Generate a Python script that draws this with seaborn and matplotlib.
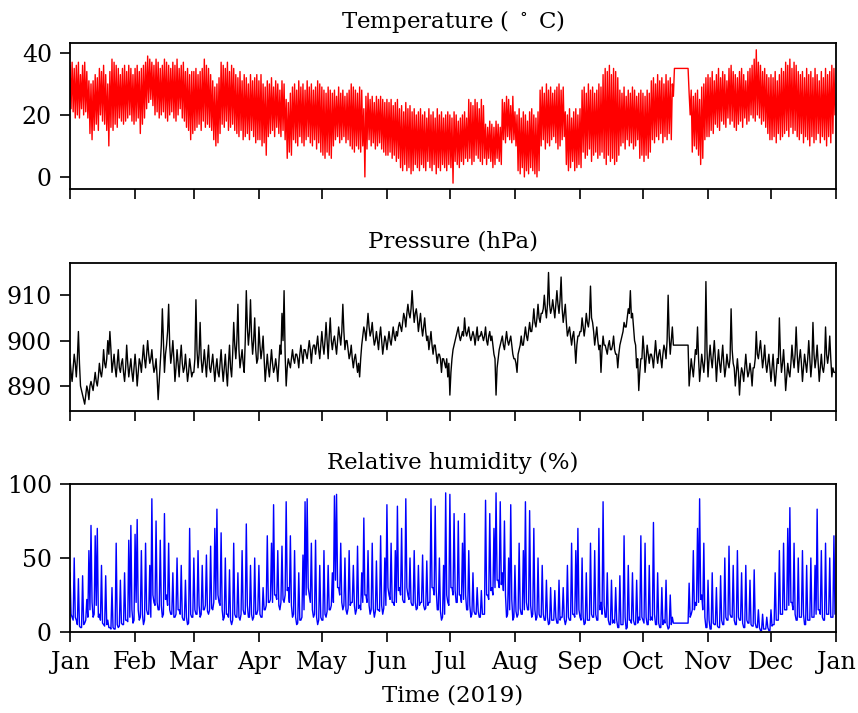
import numpy as np
import pandas as pd
import matplotlib
matplotlib.use("Agg")
import matplotlib.pyplot as plt
import matplotlib.dates as mdates
import seaborn as sns

# ---- Data: two readings per day (daily high / low), month by month ----
temp_hi_jan = [36, 37, 35, 36, 37, 33, 36, 37, 34, 31, 30, 31, 33, 32, 35, 34, 36, 33, 30, 34, 38, 37, 36, 35, 33, 35, 36, 34, 36, 35, 33]
temp_lo_jan = [22, 21, 19, 20, 19, 22, 20, 21, 19, 14, 12, 15, 17, 15, 20, 18, 17, 15, 10, 16, 15, 17, 16, 19, 18, 17, 18, 19, 20, 18, 17]
temp_hi_feb = [35, 36, 34, 35, 36, 37, 39, 38, 37, 36, 38, 37, 35, 36, 38, 37, 36, 35, 37, 36, 38, 35, 36, 37, 34, 35, 33, 34]
temp_lo_feb = [18, 19, 14, 17, 19, 22, 24, 25, 23, 20, 21, 19, 20, 21, 19, 18, 20, 21, 19, 18, 20, 22, 19, 18, 16, 15, 12, 14]
temp_hi_mar = [34, 35, 33, 34, 35, 38, 36, 35, 33, 31, 29, 30, 32, 37, 36, 35, 37, 34, 36, 35, 33, 32, 34, 31, 33, 32, 30, 33, 31, 32, 33]
temp_lo_mar = [15, 16, 17, 15, 18, 16, 17, 16, 15, 12, 10, 11, 14, 17, 16, 18, 15, 16, 17, 15, 14, 13, 15, 12, 13, 14, 12, 15, 13, 11, 12]
temp_hi_apr = [31, 33, 30, 29, 31, 30, 32, 29, 31, 30, 28, 31, 30, 25, 24, 27, 29, 30, 28, 31, 29, 30, 28, 31, 29, 30, 28, 29, 31, 30]
temp_lo_apr = [12, 10, 11, 7, 13, 14, 15, 13, 16, 14, 13, 15, 12, 6, 8, 7, 12, 11, 10, 13, 11, 10, 12, 13, 11, 10, 12, 9, 11, 8]
temp_hi_may = [29, 28, 27, 29, 28, 27, 28, 26, 29, 27, 28, 26, 27, 28, 30, 29, 28, 27, 29, 28, 22, 26, 27, 25, 26, 24, 26, 25, 26, 25, 24]
temp_lo_may = [7, 6, 8, 7, 6, 10, 12, 13, 11, 12, 13, 11, 12, 10, 9, 8, 10, 9, 8, 10, 0, 9, 12, 10, 11, 9, 10, 11, 9, 8, 7]
temp_hi_jun = [25, 24, 25, 23, 24, 25, 22, 23, 21, 24, 22, 23, 21, 22, 20, 21, 22, 20, 21, 19, 22, 20, 21, 19, 22, 20, 21, 19, 20, 21]
temp_lo_jun = [7, 8, 6, 7, 5, 6, 3, 2, 4, 2, 3, 1, 2, 4, 3, 2, 4, 3, 2, 5, 3, 2, 4, 1, 3, 2, 4, 3, 2, 4]
temp_hi_jul = [20, 19, 21, 20, 18, 19, 20, 21, 19, 25, 24, 23, 25, 24, 22, 25, 23, 17, 16, 18, 17, 16, 18, 17, 16, 25, 24, 26, 25, 23, 26]
temp_lo_jul = [3, -2, 5, 4, 3, 5, 4, 6, 5, 6, 4, 5, 7, 6, 5, 4, 6, 4, 6, 5, 3, 4, 6, 5, 4, 12, 11, 13, 12, 11, 12]
temp_hi_aug = [21, 20, 22, 19, 21, 20, 18, 21, 22, 20, 19, 21, 28, 29, 27, 30, 28, 29, 27, 28, 29, 30, 28, 29, 21, 20, 22, 19, 21, 22, 20]
temp_lo_aug = [10, 2, 1, 3, 0, 2, 1, 3, 2, 1, 0, 2, 10, 12, 9, 11, 10, 12, 13, 11, 9, 10, 12, 13, 4, 2, 3, 5, 2, 3, 4]
temp_hi_sep = [22, 28, 29, 27, 30, 28, 29, 27, 28, 30, 29, 33, 35, 34, 36, 33, 35, 34, 32, 28, 27, 29, 26, 28, 27, 29, 28, 26, 27, 28]
temp_lo_sep = [3, 8, 6, 7, 9, 5, 7, 8, 6, 7, 8, 6, 4, 7, 5, 6, 4, 5, 7, 10, 11, 9, 12, 10, 11, 9, 10, 12, 6, 7]
temp_hi_oct = [27, 26, 28, 27, 31, 32, 30, 33, 31, 32, 30, 33, 31, 32, 30, 35, 35, 35, 35, 35, 35, 35, 27, 28, 26, 27, 28, 25, 29, 30, 32]
temp_lo_oct = [5, 7, 6, 8, 12, 11, 13, 12, 14, 11, 13, 12, 14, 12, 26, 35, 35, 35, 35, 35, 35, 35, 20, 8, 10, 9, 7, 4, 6, 12, 13]
temp_hi_nov = [33, 32, 34, 31, 33, 35, 32, 34, 33, 31, 35, 36, 34, 33, 32, 34, 35, 33, 31, 34, 35, 36, 38, 41, 37, 36, 34, 35, 33, 32]
temp_lo_nov = [13, 15, 14, 17, 16, 15, 18, 17, 16, 19, 17, 18, 16, 15, 17, 18, 16, 19, 17, 18, 20, 19, 18, 20, 19, 17, 18, 16, 14, 12]
temp_hi_dec = [33, 32, 34, 31, 33, 35, 34, 37, 36, 38, 35, 37, 36, 34, 33, 34, 32, 35, 33, 34, 32, 35, 33, 31, 34, 32, 35, 33, 34, 36, 35]
temp_lo_dec = [12, 13, 11, 14, 12, 13, 14, 15, 13, 16, 14, 15, 13, 12, 14, 11, 13, 12, 10, 13, 11, 12, 14, 11, 13, 12, 10, 13, 11, 14, 20]

pres_a_jan = [896, 891, 897, 892, 902, 890, 888, 886, 890, 887, 891, 889, 893, 890, 895, 892, 898, 894, 900, 902, 893, 897, 892, 898, 893, 896, 891, 899, 892, 896, 891]
pres_b_jan = [893, 894, 895, 896, 895, 889, 887, 888, 889, 890, 890, 891, 891, 892, 893, 894, 895, 896, 897, 898, 895, 894, 895, 894, 895, 893, 894, 895, 894, 893, 894]
pres_a_feb = [897, 890, 896, 893, 899, 894, 900, 895, 898, 893, 896, 887, 895, 907, 893, 899, 908, 895, 900, 891, 898, 892, 899, 893, 897, 891, 896, 892]
pres_b_feb = [894, 893, 895, 896, 896, 897, 897, 896, 895, 894, 892, 891, 899, 900, 897, 902, 899, 897, 896, 894, 895, 896, 895, 894, 894, 893, 894, 893]
pres_a_mar = [893, 909, 894, 904, 893, 898, 892, 899, 893, 897, 891, 896, 892, 898, 891, 897, 890, 899, 892, 904, 896, 908, 894, 898, 893, 911, 899, 909, 897, 905, 895]
pres_b_mar = [896, 898, 897, 896, 895, 895, 896, 894, 895, 894, 894, 893, 895, 894, 894, 893, 895, 894, 897, 899, 900, 898, 896, 895, 900, 903, 902, 901, 900, 898, 896]
pres_a_apr = [903, 896, 901, 891, 897, 892, 898, 893, 896, 891, 899, 906, 911, 890, 896, 894, 898, 895, 897, 894, 899, 895, 898, 896, 900, 895, 899, 897, 901, 896]
pres_b_apr = [899, 898, 896, 894, 894, 895, 895, 894, 894, 895, 897, 900, 897, 894, 895, 896, 896, 897, 896, 897, 897, 898, 897, 898, 898, 898, 899, 899, 898, 899]
pres_a_may = [902, 897, 904, 896, 905, 898, 901, 897, 903, 899, 908, 898, 900, 896, 899, 894, 897, 893, 892, 899, 903, 900, 906, 901, 904, 899, 902, 898, 903, 897, 901]
pres_b_may = [899, 900, 900, 901, 900, 900, 899, 900, 901, 902, 902, 900, 898, 897, 896, 896, 895, 895, 896, 901, 902, 903, 903, 902, 901, 900, 900, 901, 900, 899, 900]
pres_a_jun = [898, 902, 899, 903, 900, 901, 904, 902, 906, 903, 908, 905, 911, 904, 907, 902, 906, 901, 905, 900, 898, 902, 897, 899, 895, 897, 893, 896, 894, 892]
pres_b_jun = [900, 900, 901, 901, 902, 903, 903, 904, 905, 906, 906, 907, 907, 906, 905, 904, 903, 903, 902, 901, 900, 899, 899, 897, 897, 896, 896, 895, 896, 895]
pres_a_jul = [888, 896, 899, 901, 903, 900, 902, 905, 901, 903, 900, 902, 899, 903, 901, 902, 900, 903, 899, 902, 901, 897, 888, 896, 899, 901, 898, 902, 899, 901, 897]
pres_b_jul = [893, 898, 900, 902, 901, 901, 901, 902, 902, 901, 901, 901, 901, 900, 901, 901, 901, 900, 901, 900, 899, 896, 894, 898, 900, 899, 900, 900, 900, 899, 896]
pres_a_aug = [896, 893, 898, 901, 899, 903, 900, 904, 902, 907, 903, 908, 904, 906, 910, 905, 915, 906, 909, 905, 911, 906, 914, 904, 908, 901, 903, 899, 902, 895, 901]
pres_b_aug = [895, 897, 899, 899, 901, 901, 902, 902, 904, 904, 905, 905, 906, 907, 907, 908, 908, 907, 907, 908, 908, 909, 907, 906, 904, 902, 901, 901, 899, 899, 901]
pres_a_sep = [902, 905, 901, 906, 903, 912, 904, 899, 903, 898, 893, 901, 899, 897, 900, 898, 901, 897, 894, 899, 901, 904, 903, 907, 911, 906, 900, 894, 889, 896]
pres_b_sep = [902, 903, 903, 904, 905, 905, 902, 901, 900, 899, 898, 899, 898, 899, 898, 899, 898, 897, 897, 900, 902, 903, 905, 906, 905, 903, 899, 896, 893, 896]
pres_a_oct = [901, 893, 899, 895, 897, 894, 900, 895, 898, 894, 899, 896, 910, 897, 903, 899, 899, 899, 899, 899, 899, 899, 890, 896, 892, 898, 903, 891, 897, 893, 913]
pres_b_oct = [898, 896, 897, 897, 896, 897, 897, 897, 896, 897, 898, 900, 901, 900, 899, 899, 899, 899, 899, 899, 899, 899, 893, 894, 895, 897, 896, 894, 895, 896, 898]
pres_a_nov = [892, 899, 894, 900, 891, 898, 893, 899, 892, 897, 894, 907, 895, 890, 896, 888, 894, 891, 897, 892, 895, 890, 894, 902, 896, 900, 894, 899, 893, 897]
pres_b_nov = [896, 896, 897, 896, 895, 895, 896, 895, 894, 895, 896, 898, 894, 893, 893, 892, 893, 894, 894, 893, 893, 894, 896, 897, 898, 897, 896, 895, 895, 894]
pres_a_dec = [891, 897, 890, 896, 905, 893, 898, 889, 895, 892, 899, 894, 903, 893, 898, 891, 897, 893, 900, 892, 904, 894, 899, 891, 897, 893, 903, 895, 901, 892, 893]
pres_b_dec = [894, 893, 893, 895, 897, 895, 894, 892, 893, 895, 896, 897, 897, 896, 895, 894, 895, 896, 896, 895, 897, 896, 895, 894, 894, 895, 897, 897, 896, 894, 893]

hum_a_jan = [40, 10, 50, 8, 36, 3, 38, 6, 22, 55, 72, 10, 65, 70, 12, 45, 5, 38, 8, 3, 30, 2, 60, 3, 35, 5, 40, 8, 62, 72, 6]
hum_b_jan = [12, 8, 10, 5, 4, 3, 5, 8, 10, 15, 20, 12, 18, 10, 8, 6, 4, 5, 3, 2, 3, 2, 5, 4, 6, 5, 8, 7, 10, 15, 8]
hum_a_feb = [66, 76, 8, 55, 5, 60, 12, 45, 90, 20, 75, 15, 62, 10, 80, 25, 60, 12, 40, 10, 50, 15, 45, 8, 35, 5, 70, 10]
hum_b_feb = [20, 15, 10, 12, 8, 15, 12, 10, 25, 18, 20, 15, 18, 12, 22, 18, 15, 12, 10, 12, 15, 12, 10, 8, 10, 6, 12, 10]
hum_a_mar = [50, 12, 55, 10, 45, 15, 52, 12, 58, 15, 70, 83, 20, 67, 8, 50, 12, 42, 5, 60, 10, 40, 8, 55, 12, 73, 10, 45, 8, 50, 12]
hum_b_mar = [15, 12, 18, 12, 15, 18, 14, 15, 16, 20, 22, 25, 18, 15, 10, 12, 10, 8, 8, 12, 10, 10, 12, 15, 12, 18, 10, 12, 10, 12, 15]
hum_a_apr = [45, 10, 30, 15, 65, 20, 60, 86, 25, 55, 15, 58, 20, 88, 30, 65, 10, 55, 5, 40, 8, 52, 88, 90, 25, 60, 10, 62, 5, 45]
hum_b_apr = [12, 10, 15, 18, 20, 22, 20, 25, 22, 18, 20, 22, 25, 28, 20, 18, 12, 10, 6, 8, 10, 15, 25, 30, 20, 15, 12, 10, 8, 10]
hum_a_may = [8, 55, 10, 45, 15, 40, 92, 93, 30, 60, 15, 50, 12, 55, 20, 45, 12, 58, 18, 40, 77, 25, 55, 12, 60, 10, 48, 15, 65, 12, 50]
hum_b_may = [8, 12, 14, 15, 18, 20, 35, 30, 25, 20, 18, 15, 16, 18, 20, 18, 15, 16, 15, 20, 25, 20, 18, 15, 16, 14, 15, 14, 18, 16, 18]
hum_a_jun = [86, 25, 60, 20, 55, 85, 30, 70, 20, 90, 25, 50, 18, 55, 15, 45, 20, 52, 15, 48, 20, 90, 30, 85, 15, 50, 8, 45, 94, 20]
hum_b_jun = [30, 22, 20, 18, 20, 28, 25, 22, 20, 30, 22, 20, 18, 20, 16, 18, 20, 18, 16, 18, 20, 30, 25, 28, 15, 14, 10, 12, 25, 18]
hum_a_jul = [93, 30, 80, 20, 75, 25, 60, 80, 15, 55, 10, 40, 12, 30, 10, 28, 12, 89, 25, 80, 30, 70, 94, 35, 88, 40, 75, 10, 50, 86, 8]
hum_b_jul = [30, 25, 28, 20, 25, 20, 22, 25, 15, 18, 12, 14, 12, 14, 10, 12, 12, 25, 22, 28, 25, 30, 35, 30, 32, 28, 25, 12, 15, 22, 10]
hum_a_aug = [45, 10, 60, 12, 55, 88, 15, 82, 10, 70, 8, 50, 10, 45, 8, 35, 5, 30, 8, 28, 6, 35, 10, 30, 5, 45, 8, 60, 12, 55, 70]
hum_b_aug = [14, 12, 16, 12, 15, 20, 15, 18, 12, 15, 10, 12, 10, 12, 8, 10, 6, 8, 8, 10, 6, 8, 10, 9, 8, 10, 8, 12, 10, 12, 15]
hum_a_sep = [10, 50, 5, 40, 8, 60, 10, 55, 8, 70, 20, 88, 10, 40, 5, 35, 8, 30, 3, 38, 5, 65, 2, 45, 8, 40, 5, 35, 10, 65]
hum_b_sep = [8, 10, 6, 8, 8, 12, 10, 12, 8, 15, 12, 18, 10, 8, 5, 6, 6, 8, 3, 5, 5, 10, 3, 8, 6, 8, 5, 6, 8, 10]
hum_a_oct = [8, 60, 5, 45, 10, 74, 5, 40, 3, 30, 8, 35, 2, 25, 10, 6, 6, 6, 6, 6, 6, 6, 33, 12, 55, 20, 70, 90, 25, 60, 3]
hum_b_oct = [6, 10, 5, 8, 8, 12, 5, 6, 3, 5, 6, 5, 3, 5, 6, 6, 6, 6, 6, 6, 6, 6, 10, 15, 15, 18, 20, 22, 15, 10, 3]
hum_a_nov = [35, 2, 40, 5, 30, 3, 38, 5, 50, 8, 58, 10, 45, 5, 55, 8, 40, 3, 45, 6, 35, 4, 42, 3, 15, 1, 12, 2, 10, 1]
hum_b_nov = [8, 2, 6, 5, 4, 3, 8, 5, 10, 8, 12, 10, 8, 5, 10, 8, 6, 3, 8, 6, 5, 4, 6, 3, 3, 1, 2, 2, 3, 1]
hum_a_dec = [15, 5, 40, 8, 55, 12, 60, 15, 70, 84, 20, 60, 8, 50, 10, 55, 5, 45, 8, 50, 10, 45, 83, 15, 55, 8, 60, 12, 50, 10, 65]
hum_b_dec = [4, 5, 8, 8, 12, 12, 15, 15, 18, 20, 15, 12, 8, 10, 10, 12, 5, 8, 8, 10, 10, 12, 15, 12, 10, 8, 12, 12, 10, 10, 12]

titles = ["Temperature ( $^\\circ$ C)", "Pressure (hPa)", "Relative humidity (%)"]
colors = ["#ff0000", "#000000", "#0000ff"]
xlabel = "Time (2019)"
ylims = [(-3.9, 43.2), (884.5, 917.1), (0, 100)]
yticks = [[0, 20, 40], [890, 900, 910], [0, 50, 100]]


def interleave(*month_pairs):
    out = []
    for first, second in month_pairs:
        for a, b in zip(first, second):
            out.extend([a, b])
    return out


temperature = interleave((temp_hi_jan, temp_lo_jan), (temp_hi_feb, temp_lo_feb), (temp_hi_mar, temp_lo_mar),
                         (temp_hi_apr, temp_lo_apr), (temp_hi_may, temp_lo_may), (temp_hi_jun, temp_lo_jun),
                         (temp_hi_jul, temp_lo_jul), (temp_hi_aug, temp_lo_aug), (temp_hi_sep, temp_lo_sep),
                         (temp_hi_oct, temp_lo_oct), (temp_hi_nov, temp_lo_nov), (temp_hi_dec, temp_lo_dec))
pressure = interleave((pres_a_jan, pres_b_jan), (pres_a_feb, pres_b_feb), (pres_a_mar, pres_b_mar),
                      (pres_a_apr, pres_b_apr), (pres_a_may, pres_b_may), (pres_a_jun, pres_b_jun),
                      (pres_a_jul, pres_b_jul), (pres_a_aug, pres_b_aug), (pres_a_sep, pres_b_sep),
                      (pres_a_oct, pres_b_oct), (pres_a_nov, pres_b_nov), (pres_a_dec, pres_b_dec))
humidity = interleave((hum_a_jan, hum_b_jan), (hum_a_feb, hum_b_feb), (hum_a_mar, hum_b_mar),
                      (hum_a_apr, hum_b_apr), (hum_a_may, hum_b_may), (hum_a_jun, hum_b_jun),
                      (hum_a_jul, hum_b_jul), (hum_a_aug, hum_b_aug), (hum_a_sep, hum_b_sep),
                      (hum_a_oct, hum_b_oct), (hum_a_nov, hum_b_nov), (hum_a_dec, hum_b_dec))

series = [temperature, pressure, humidity]

# ---- Style ----
sns.set_style("ticks")
plt.rcParams["font.family"] = ["DejaVu Serif"]
plt.rcParams["mathtext.fontset"] = "dejavuserif"
plt.rcParams["font.size"] = 17
for key in ["text.color", "axes.labelcolor", "xtick.color", "ytick.color", "axes.edgecolor"]:
    plt.rcParams[key] = "black"

fig = plt.figure(figsize=(8.58, 7.13), dpi=100)
left, width = 0.0816, 0.8928
rects = [(left, 0.7349, width, 0.2048),
         (left, 0.4236, width, 0.2076),
         (left, 0.1136, width, 0.2076)]
lws = [1.0, 1.0, 1.0]

axes = []
for i in range(3):
    vals = series[i]
    times = pd.date_range("2019-01-01", periods=len(vals), freq="12h")
    df = pd.DataFrame({"time": times, "value": vals})
    ax = fig.add_axes(rects[i])
    sns.lineplot(data=df, x="time", y="value", ax=ax, color=colors[i], linewidth=lws[i])
    ax.set_xlim(pd.Timestamp("2019-01-01"), pd.Timestamp("2020-01-01"))
    ax.set_ylim(*ylims[i])
    ax.set_yticks(yticks[i])
    ax.set_title(titles[i], fontsize=16.5, pad=11)
    ax.set_ylabel("")
    ax.set_xlabel("")
    ax.xaxis.set_major_locator(mdates.MonthLocator())
    ax.xaxis.set_major_formatter(mdates.DateFormatter("%b"))
    for s in ax.spines.values():
        s.set_linewidth(1.3)
        s.set_visible(True)
    ax.tick_params(axis="both", direction="out", length=7, width=1.2, labelsize=17)
    ax.tick_params(axis="x", pad=6.5)
    ax.tick_params(axis="y", pad=6)
    if i < 2:
        ax.tick_params(axis="x", labelbottom=False)
    axes.append(ax)

axes[2].set_xlabel(xlabel, fontsize=16.5, labelpad=8)

fig.savefig("out.png", dpi=100)
